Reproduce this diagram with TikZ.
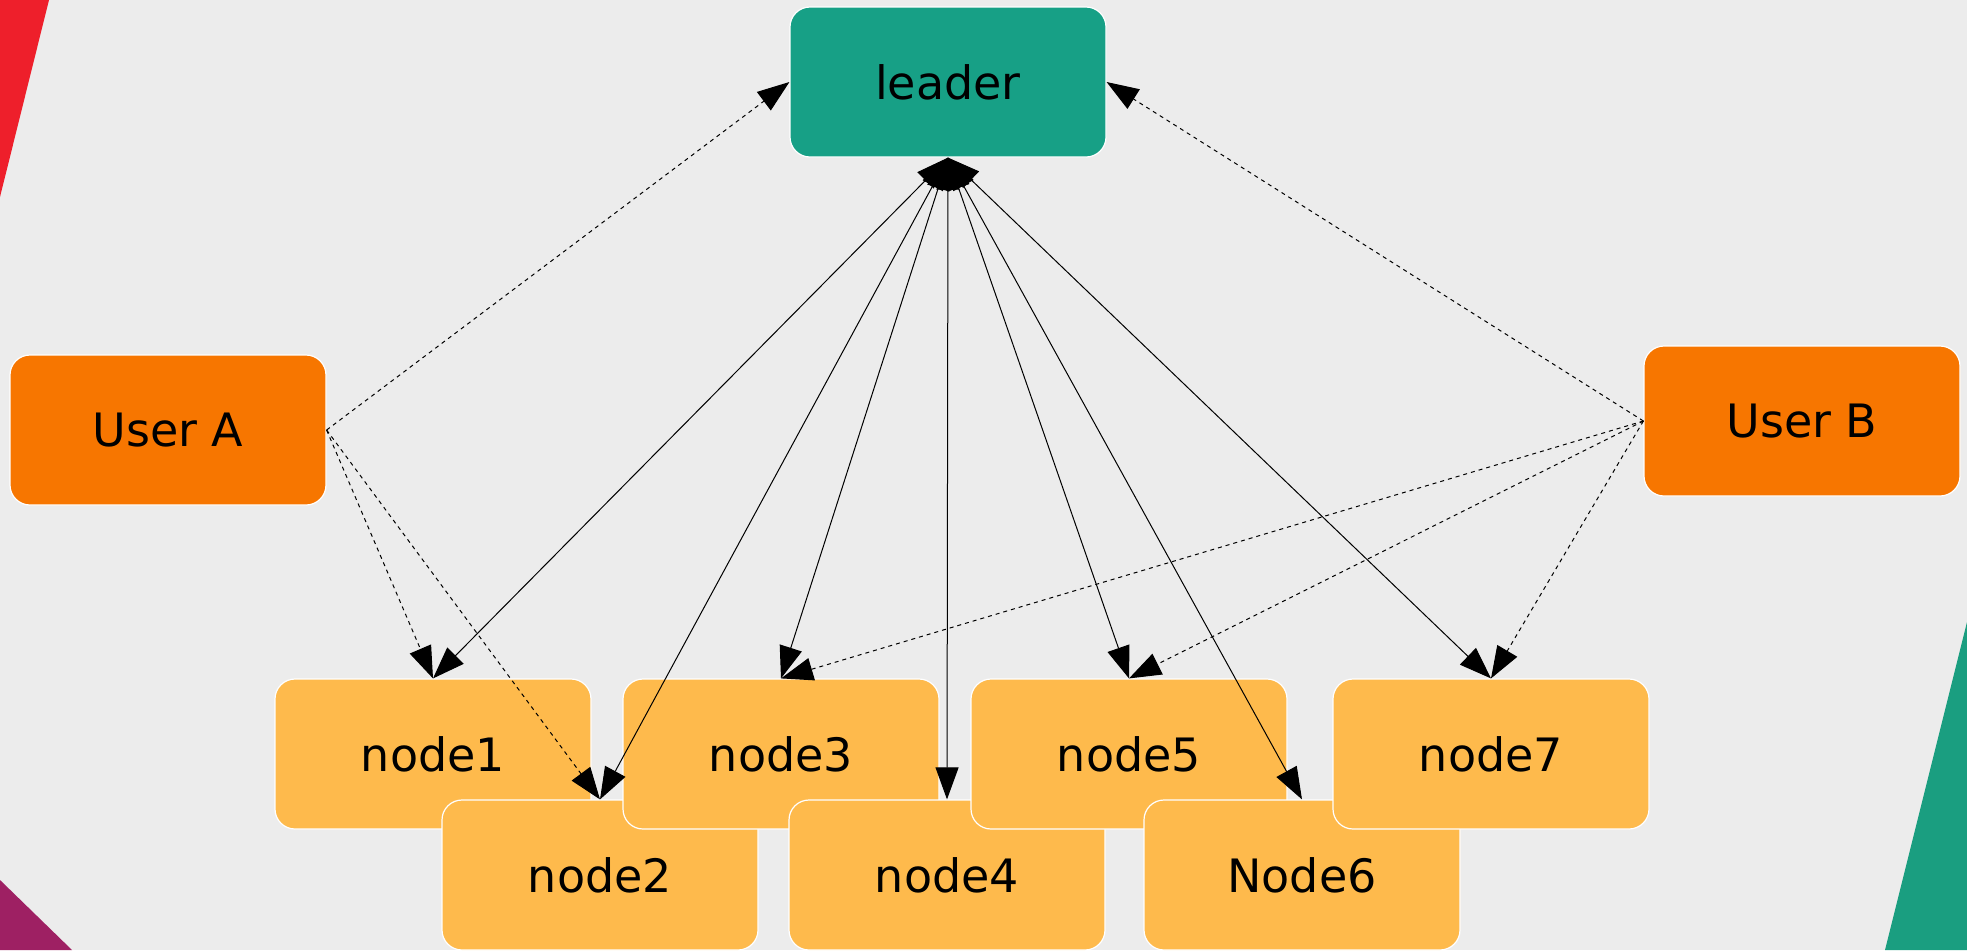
\documentclass[tikz,border=0pt]{standalone}
\usepackage{fontspec}
\setmainfont{DejaVu Sans}
\usetikzlibrary{
  arrows.meta,
  positioning
}
\definecolor{bggray}{HTML}{ECECEC}
\definecolor{leadergreen}{HTML}{17A086}
\definecolor{userorange}{HTML}{F77600}
\definecolor{nodeyellow}{HTML}{FEBA4C}
\definecolor{cornerred}{HTML}{EE1F2B}
\definecolor{cornerplum}{HTML}{9E2063}
\definecolor{cornergreen}{HTML}{1A9E80}

\tikzset{
  box/.style={rounded corners=10pt, draw=white, line width=0.6pt,
    minimum width=158pt, minimum height=75pt, inner sep=0pt,
    font=\fontsize{23}{28}\selectfont},
  bothlink/.style={line width=0.5pt, {Triangle[length=16pt,width=11.5pt]}-{Triangle[length=16pt,width=11.5pt]}},
  userlink/.style={line width=0.5pt, dash pattern=on 2pt off 2pt, -{Triangle[length=16pt,width=11.5pt]}}
}

\begin{document}
\begin{tikzpicture}[x=0.5pt, y=-0.5pt]
% background and corner wedges
\fill[bggray] (0, 0) rectangle (1967, 950);
\useasboundingbox (0, 0) rectangle (1967, 950);
\fill[cornerred] (0, 0) -- (49, 0) -- (0, 197) -- cycle;
\fill[cornerplum] (0, 880) -- (72, 950) -- (0, 950) -- cycle;
\fill[cornergreen] (1967, 622) -- (1967, 950) -- (1885, 950) -- cycle;

% leader and users
\node[box, fill=leadergreen] (leader) at (948, 82) {leader};
\node[box, fill=userorange] (userA) at (168, 430) {User A};
\node[box, fill=userorange] (userB) at (1802, 421) {User B};

% two staggered rows of nodes
\foreach \name/\txt/\x/\y in {node1/node1/433/754, node2/node2/600/875,
    node3/node3/781/754, node4/node4/947/875, node5/node5/1129/754,
    node6/Node6/1302/875, node7/node7/1491/754} {
  \node[box, fill=nodeyellow] (\name) at (\x, \y) {\txt};
}

% leader <-> nodes
\foreach \name in {node1, node2, node3, node4, node5, node6, node7} {
  \draw[bothlink] (leader.south) -- (\name.north);
}

% users -> leader and nodes
\draw[userlink] (userA.east) -- (leader.west);
\draw[userlink] (userA.east) -- (node1.north);
\draw[userlink] (userA.east) -- (node2.north);
\draw[userlink] (userB.west) -- (leader.east);
\foreach \name in {node3, node5, node7} {
  \draw[userlink] (userB.west) -- (\name.north);
}
\end{tikzpicture}
\end{document}
